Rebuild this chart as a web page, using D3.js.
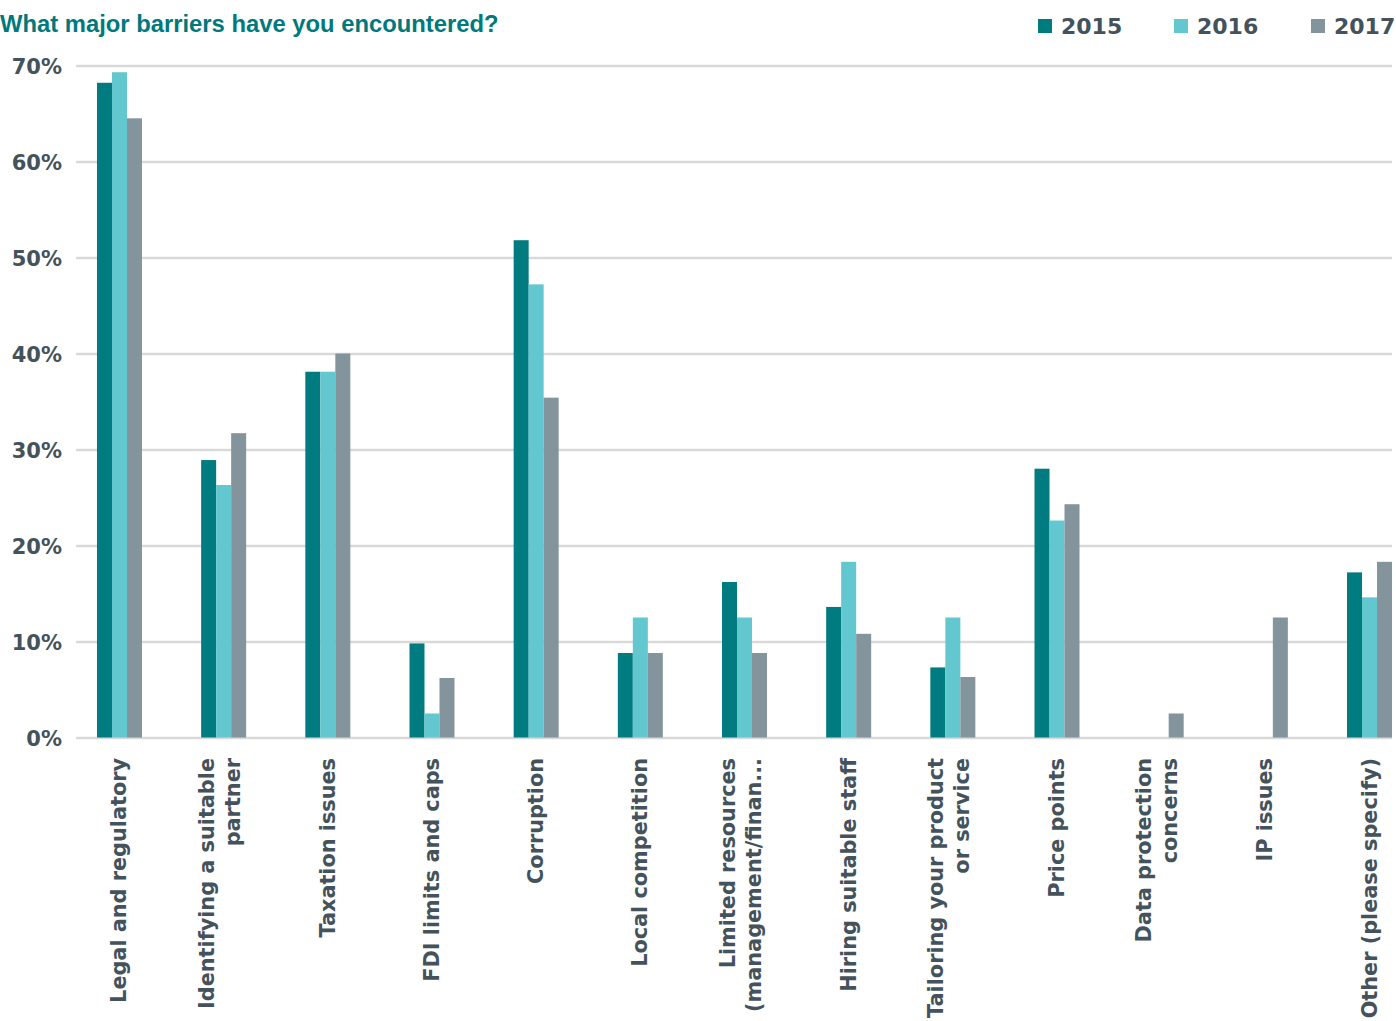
<!DOCTYPE html>
<html>
<head>
<meta charset="utf-8">
<script src="https://cdn.jsdelivr.net/npm/d3@7"></script>
<style>
  body { margin: 0; background: #fff; }
  svg { display: block; }
</style>
</head>
<body>
<div id="chart"></div>
<script>
var categories = [
  ["Legal and regulatory"],
  ["Identifying a suitable", "partner"],
  ["Taxation issues"],
  ["FDI limits and caps"],
  ["Corruption"],
  ["Local competition"],
  ["Limited resources", "(management/finan..."],
  ["Hiring suitable staff"],
  ["Tailoring your product", "or service"],
  ["Price points"],
  ["Data protection", "concerns"],
  ["IP issues"],
  ["Other (please specify)"]
];
var years = ["2015", "2016", "2017"];
var values2015 = [68.2, 28.9, 38.1, 9.8, 51.8, 8.8, 16.2, 13.6, 7.3, 28.0, 0, 0, 17.2];
var values2016 = [69.3, 26.3, 38.1, 2.5, 47.2, 12.5, 12.5, 18.3, 12.5, 22.6, 0, 0, 14.6];
var values2017 = [64.5, 31.7, 40.0, 6.2, 35.4, 8.8, 8.8, 10.8, 6.3, 24.3, 2.5, 12.5, 18.3];
var yTicks = [0, 10, 20, 30, 40, 50, 60, 70];

var series = [values2015, values2016, values2017];
var colors = ["#007b80", "#62c7cf", "#84949c"];
var textColor = "#44525c";
var labelFont = "DejaVu Sans, sans-serif";

var width = 1396, height = 1021;

var svg = d3.select("#chart").append("svg")
    .attr("width", width)
    .attr("height", height);

// title
svg.append("text")
    .attr("x", 0)
    .attr("y", 32)
    .attr("font-family", "Liberation Sans, Arial, sans-serif")
    .attr("font-weight", "bold")
    .attr("font-size", 23.8)
    .attr("fill", "#00797c")
    .text("What major barriers have you encountered?");

// legend
var legendX = [1038, 1174, 1311];
var legend = svg.selectAll("g.legend")
    .data(years)
  .enter().append("g")
    .attr("class", "legend")
    .attr("transform", function(d, i) { return "translate(" + legendX[i] + ",0)"; });
legend.append("rect")
    .attr("x", 0).attr("y", 19)
    .attr("width", 14).attr("height", 14)
    .attr("fill", function(d, i) { return colors[i]; });
legend.append("text")
    .attr("x", 23)
    .attr("y", 34)
    .attr("font-family", labelFont)
    .attr("font-weight", "bold")
    .attr("font-size", 22)
    .attr("fill", textColor)
    .text(function(d) { return d; });

var y = d3.scaleLinear().domain([0, 70]).range([737.5, 65.5]);

var x = d3.scaleBand()
    .domain(d3.range(categories.length))
    .range([67.4, 1421.6]);

var groupWidth = 45;
var xSub = d3.scaleBand().domain(years).range([0, groupWidth]);

// gridlines + tick labels
var yAxis = d3.axisLeft(y)
    .tickValues(yTicks)
    .tickSize(-(1392 - 76))
    .tickPadding(14)
    .tickFormat(function(d) { return d + "%"; });

var gAxis = svg.append("g")
    .attr("transform", "translate(76,0)")
    .call(yAxis);
gAxis.select(".domain").remove();
gAxis.selectAll(".tick line")
    .attr("stroke", "#d9d9d9")
    .attr("stroke-width", 2.5);
gAxis.selectAll(".tick text")
    .attr("font-family", labelFont)
    .attr("font-weight", "bold")
    .attr("font-size", 21)
    .attr("fill", textColor)
    .attr("dy", "0.36em");

// bars
var groups = svg.selectAll("g.group")
    .data(categories)
  .enter().append("g")
    .attr("class", "group")
    .attr("transform", function(d, i) {
      return "translate(" + (x(i) + (x.bandwidth() - groupWidth) / 2) + ",0)";
    });

groups.selectAll("rect")
    .data(function(d, i) { return series.map(function(s, k) { return {year: years[k], value: s[i], k: k}; }); })
  .enter().append("rect")
    .attr("x", function(d) { return xSub(d.year); })
    .attr("width", xSub.bandwidth())
    .attr("y", function(d) { return y(d.value); })
    .attr("height", function(d) { return y(0) - y(d.value); })
    .attr("fill", function(d) { return colors[d.k]; });

// category labels (rotated)
var lineGap = 26;
svg.selectAll("text.cat")
    .data(categories)
  .enter().append("text")
    .attr("class", "cat")
    .attr("font-family", labelFont)
    .attr("font-weight", "bold")
    .attr("font-size", 20.8)
    .attr("fill", textColor)
    .attr("text-anchor", "end")
    .attr("transform", "rotate(-90)")
    .each(function(lines, i) {
      var cx = x(i) + x.bandwidth() / 2;
      var t = d3.select(this);
      lines.forEach(function(line, j) {
        var off = (j - (lines.length - 1) / 2) * lineGap;
        t.append("tspan")
          .attr("x", -758)
          .attr("y", cx + off + (lines.length > 1 ? 3 : 7))
          .text(line);
      });
    });
</script>
</body>
</html>
